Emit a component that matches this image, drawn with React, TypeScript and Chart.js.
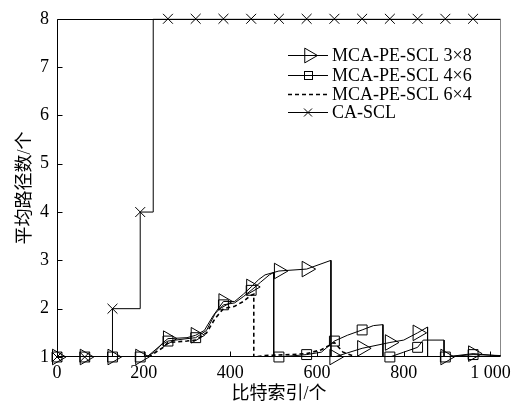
import React, { useEffect, useRef } from 'react';
import { Chart, registerables } from 'chart.js';

Chart.register(...registerables);

const FONT = "'Liberation Serif', 'Noto Sans CJK SC', serif";

const xTicks = [0, 200, 400, 600, 800, 1000];
const yTicks = [1, 2, 3, 4, 5, 6, 7, 8];
const X_MAX = 1024;

const seriesNames = ['MCA-PE-SCL 3×8', 'MCA-PE-SCL 4×6', 'MCA-PE-SCL 6×4', 'CA-SCL'];

// marker positions (every 64 bits)
const markerX = [0, 64, 128, 192, 256, 320, 384, 448, 512, 576, 640, 704, 768, 832, 896, 960];

// MCA-PE-SCL 3x8
const s38X = [0, 64, 128, 192, 205, 225, 245, 256, 300, 320, 340, 360, 384, 410, 430, 448, 465, 480, 512, 576, 632, 632, 640, 704, 768, 800, 832, 855, 855, 896, 960, 1024];
const s38Y = [1, 1, 1, 1, 1, 1.1, 1.3, 1.38, 1.4, 1.45, 1.55, 1.85, 2.15, 2.15, 2.3, 2.45, 2.6, 2.7, 2.78, 2.82, 3.0, 1.0, 1.0, 1.18, 1.3, 1.35, 1.5, 1.62, 1.0, 1.0, 1.07, 1.02];
const m38Y = [1, 1, 1, 1, 1.38, 1.45, 2.15, 2.45, 2.78, 2.82, 1.0, 1.18, 1.3, 1.5, 1.0, 1.07];

// MCA-PE-SCL 4x6
const s46X = [0, 64, 128, 192, 210, 240, 256, 300, 320, 345, 365, 384, 410, 430, 448, 470, 490, 500, 500, 512, 576, 610, 640, 670, 704, 730, 752, 752, 768, 800, 832, 845, 893, 893, 896, 960, 1024];
const s46Y = [1, 1, 1, 1, 1.02, 1.25, 1.33, 1.38, 1.4, 1.55, 1.9, 2.08, 2.12, 2.25, 2.38, 2.55, 2.7, 2.75, 1.0, 1.0, 1.05, 1.1, 1.33, 1.45, 1.56, 1.65, 1.67, 1.0, 1.0, 1.1, 1.2, 1.35, 1.35, 1.0, 1.0, 1.05, 1.03];
const m46Y = [1, 1, 1, 1, 1.33, 1.4, 2.08, 2.38, 1.0, 1.05, 1.33, 1.56, 1.0, 1.2, 1.0, 1.05];

// MCA-PE-SCL 6x4 (dashed, no markers)
const s64X = [0, 192, 215, 245, 256, 300, 320, 345, 365, 384, 410, 430, 448, 454, 454, 480, 540, 576, 610, 640, 660, 690, 1024];
const s64Y = [1, 1, 1.02, 1.2, 1.3, 1.33, 1.35, 1.5, 1.8, 2.0, 2.05, 2.15, 2.28, 2.3, 1.0, 1.03, 1.05, 1.07, 1.15, 1.3, 1.1, 1.0, 1.0];

// CA-SCL
const caX = [0, 128, 128, 192, 192, 222, 222, 1024];
const caY = [1, 1, 2, 2, 4, 4, 8, 8];
const mcaY = [1, 1, 2, 4, 8, 8, 8, 8, 8, 8, 8, 8, 8, 8, 8, 8];

const pts = (xs: number[], ys: number[]) => xs.map((x, i) => ({ x, y: ys[i] }));

function triRight(ctx: CanvasRenderingContext2D, x: number, y: number, r: number) {
  ctx.beginPath();
  ctx.moveTo(x + r, y);
  ctx.lineTo(x - r / 2, y - r * 0.866);
  ctx.lineTo(x - r / 2, y + r * 0.866);
  ctx.closePath();
  ctx.stroke();
}
function square(ctx: CanvasRenderingContext2D, x: number, y: number, s: number) {
  ctx.strokeRect(x - s / 2, y - s / 2, s, s);
}
function cross(ctx: CanvasRenderingContext2D, x: number, y: number, s: number) {
  ctx.beginPath();
  ctx.moveTo(x - s, y - s);
  ctx.lineTo(x + s, y + s);
  ctx.moveTo(x - s, y + s);
  ctx.lineTo(x + s, y - s);
  ctx.stroke();
}

const framePlugin = {
  id: 'frame',
  beforeDatasetsDraw(chart: any) {
    const { ctx, chartArea: a, scales } = chart;
    ctx.save();
    ctx.lineWidth = 1;
    ctx.strokeStyle = '#000';
    const L = Math.round(a.left) + 0.5, R = Math.round(a.right) - 0.5;
    const T = Math.round(a.top) + 0.5, B = Math.round(a.bottom) - 0.5;
    ctx.beginPath();
    ctx.moveTo(L, T); ctx.lineTo(R, T);
    ctx.moveTo(L, T); ctx.lineTo(L, B);
    ctx.moveTo(L, B); ctx.lineTo(R, B);
    ctx.stroke();
    ctx.strokeStyle = '#888';
    ctx.beginPath();
    ctx.moveTo(R, T); ctx.lineTo(R, B);
    ctx.stroke();
    ctx.strokeStyle = '#000';
    ctx.beginPath();
    xTicks.forEach((v) => {
      const px = Math.round(scales.x.getPixelForValue(v)) + 0.5;
      ctx.moveTo(px, B); ctx.lineTo(px, B - 5);
    });
    yTicks.forEach((v) => {
      const py = Math.round(scales.y.getPixelForValue(v)) + 0.5;
      ctx.moveTo(L, py); ctx.lineTo(L + 5, py);
    });
    ctx.stroke();
    ctx.restore();
  },
  afterDraw(chart: any) {
    const { ctx } = chart;
    ctx.save();
    ctx.strokeStyle = '#000';
    ctx.fillStyle = '#000';
    ctx.lineWidth = 1;
    ctx.font = `18px ${FONT}`;
    ctx.textBaseline = 'middle';
    ctx.textAlign = 'left';
    const rows = [55, 75, 94, 112];
    const x0 = 288, x1 = 328, xm = 308, xt = 332;
    rows.forEach((y, i) => {
      const yy = y + 0.5;
      if (i === 2) {
        ctx.save();
        ctx.lineWidth = 1.6;
        ctx.setLineDash([4, 3]);
        ctx.beginPath(); ctx.moveTo(x0, yy); ctx.lineTo(x1, yy); ctx.stroke();
        ctx.restore();
      } else {
        ctx.beginPath(); ctx.moveTo(x0, yy); ctx.lineTo(x1, yy); ctx.stroke();
      }
      if (i === 0) triRight(ctx, xm + 1, yy, 8.5);
      if (i === 1) square(ctx, xm + 0.5, yy, 8);
      if (i === 3) cross(ctx, xm, yy, 4);
      ctx.fillText(seriesNames[i], xt, y + 1);
    });
    ctx.restore();
  },
};

export default function App() {
  const ref = useRef<HTMLCanvasElement>(null);
  useEffect(() => {
    if (!ref.current) return;
    const lineDs = (label: string, xs: number[], ys: number[], dash?: number[], w = 1) => ({
      label,
      data: pts(xs, ys),
      borderColor: '#000',
      borderWidth: w,
      borderDash: dash || [],
      pointRadius: 0,
      fill: false,
      tension: 0,
    });
    const markDs = (label: string, ys: number[], style: any, r: number, rot = 0) => ({
      label,
      data: pts(markerX, ys),
      showLine: false,
      pointStyle: style,
      pointRadius: r,
      rotation: rot,
      borderColor: '#000',
      backgroundColor: 'rgba(0,0,0,0)',
      pointBorderWidth: 1,
      clip: false as any,
    });
    const chart = new Chart(ref.current, {
      type: 'line',
      data: {
        datasets: [
          lineDs(seriesNames[3], caX, caY),
          markDs(seriesNames[3] + ' m', mcaY, 'crossRot', 7),
          lineDs(seriesNames[2], s64X, s64Y, [4, 3], 1.6),
          lineDs(seriesNames[1], s46X, s46Y),
          markDs(seriesNames[1] + ' m', m46Y, 'rect', 7),
          lineDs(seriesNames[0], s38X, s38Y),
          markDs(seriesNames[0] + ' m', m38Y, 'triangle', 9, 90),
        ] as any,
      },
      options: {
        animation: false,
        responsive: false,
        devicePixelRatio: 1,
        layout: { padding: { left: 0, top: 18, right: 14, bottom: 0 } },
        plugins: { legend: { display: false }, tooltip: { enabled: false } },
        scales: {
          x: {
            type: 'linear',
            min: 0,
            max: X_MAX,
            grid: { display: false, drawTicks: false },
            border: { display: false },
            afterBuildTicks: (s: any) => { s.ticks = xTicks.map((v) => ({ value: v })); },
            afterFit: (s: any) => { s.height = 48; },
            ticks: {
              color: '#000',
              padding: 5,
              maxRotation: 0,
              autoSkip: false,
              font: { family: FONT, size: 18 },
              callback: (v: any) => (v === 1000 ? '1 000' : String(v)),
            },
            title: {
              display: true,
              text: '比特索引/个',
              color: '#000',
              font: { family: FONT, size: 18 },
              padding: { top: 0, bottom: 0 },
            },
          },
          y: {
            type: 'linear',
            min: 1,
            max: 8,
            grid: { display: false, drawTicks: false },
            border: { display: false },
            afterBuildTicks: (s: any) => { s.ticks = yTicks.map((v) => ({ value: v })); },
            afterFit: (s: any) => { s.width = 57; },
            ticks: {
              color: '#000',
              padding: 8,
              font: { family: FONT, size: 18 },
            },
            title: {
              display: true,
              text: '平均路径数/个',
              color: '#000',
              font: { family: FONT, size: 18 },
              padding: { top: 14, bottom: 0 },
            },
          },
        },
      },
      plugins: [framePlugin],
    });
    return () => chart.destroy();
  }, []);
  return (
    <div style={{ position: 'fixed', left: 0, top: 0, width: 516, height: 405, background: '#fff' }}>
      <canvas ref={ref} width={516} height={405} style={{ display: 'block', width: 516, height: 405 }} />
    </div>
  );
}
